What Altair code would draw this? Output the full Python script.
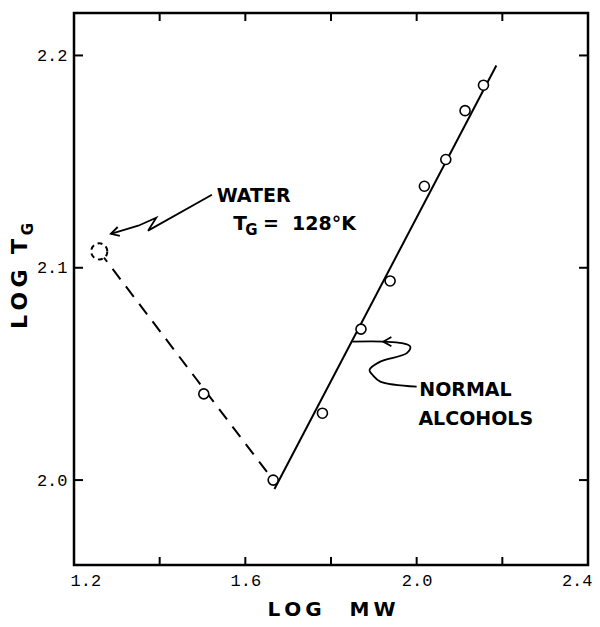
import altair as alt
import pandas as pd

# ---- data ----
alc_logmw = [1.503, 1.665, 1.780, 1.870, 1.938, 2.018, 2.068, 2.113, 2.156]
alc_logtg = [2.0406, 2.000, 2.0315, 2.0711, 2.0938, 2.1384, 2.1510, 2.1740, 2.1860]

water_logmw = [1.259]
water_logtg = [2.1077]

fit_logmw = [1.668, 2.186]
fit_logtg = [1.9958, 2.1953]

dash_logmw = [1.259, 1.665]
dash_logtg = [2.1077, 2.000]

x_ticks = [1.4, 1.6, 1.8, 2.0, 2.2]
x_labels = [1.2, 1.6, 2.0, 2.4]
y_ticks = [2.0, 2.1, 2.2]

# annotation arrows (data units)
water_arrow_x = [1.522, 1.373, 1.392, 1.350, 1.286]
water_arrow_y = [2.1344, 2.1175, 2.1236, 2.1198, 2.1160]
water_head_x = [1.307, 1.286, 1.302]
water_head_y = [2.1150, 2.1160, 2.1192]

alc_arrow_x = [2.000, 1.915, 1.899, 1.890, 1.915, 1.977, 1.985, 1.966, 1.923, 1.850]
alc_arrow_y = [2.0440, 2.0464, 2.0491, 2.0519, 2.0558, 2.0598, 2.0629, 2.0645, 2.0652, 2.0652]
alc_head_x = [1.941, 1.922, 1.941]
alc_head_y = [2.0674, 2.0652, 2.0630]

NB = "\u00a0"
TS = "\u2009"
labels_text = ["WATER", "T", "=" + NB * 2 + "128°K", "NORMAL", "ALCOHOLS"]
labels_x = [1.533, 1.5715, 1.641, 2.006, 2.004]
labels_y = [2.1340, 2.1208, 2.1208, 2.0425, 2.0288]
labels_size = [19, 20, 19, 19, 19]

sub_text = ["G"]
sub_x = [1.600]
sub_y = [2.1180]

x_title = "L" + TS + "O" + TS + "G" + NB * 4 + "M" + TS + "W"
y_title = "L" + TS + "O" + TS + "G" + NB * 2 + "T"

W, H = 514, 552
XD = [1.2, 2.4]
YD = [1.96, 2.22]

xs = alt.Scale(domain=XD, nice=False, zero=False)
ys = alt.Scale(domain=YD, nice=False, zero=False)

FONT = "DejaVu Sans"

pts = pd.DataFrame({"x": alc_logmw, "y": alc_logtg})
water = pd.DataFrame({"x": water_logmw, "y": water_logtg})
fit = pd.DataFrame({"x": fit_logmw, "y": fit_logtg})
dash = pd.DataFrame({"x": dash_logmw, "y": dash_logtg})

x_axis = alt.Axis(values=x_labels, format=".1f", tickSize=0, domain=False, grid=False,
                  labelFlush=True, labelFlushOffset=4, labelOverlap=False,
                  labelFont="Liberation Mono",
                  labelFontSize=17, labelColor="black", labelPadding=7,
                  title=x_title, titleFont=FONT, titleFontSize=20,
                  titleFontWeight="bold", titleColor="black", titlePadding=11)
y_axis = alt.Axis(values=y_ticks, format=".1f", tickSize=0, domain=False, grid=False,
                  labelOverlap=False, labelFont="Liberation Mono", labelFontSize=17,
                  labelColor="black", labelPadding=7, title=None)

dashed = alt.Chart(dash).mark_line(color="black", strokeWidth=2, strokeDash=[13, 9]).encode(
    x=alt.X("x:Q", scale=xs, axis=x_axis), y=alt.Y("y:Q", scale=ys, axis=y_axis))

solid = alt.Chart(fit).mark_line(color="black", strokeWidth=2).encode(
    x=alt.X("x:Q", scale=xs), y=alt.Y("y:Q", scale=ys))

points = alt.Chart(pts).mark_point(shape="circle", filled=True, fill="white", stroke="black",
                                   strokeWidth=1.6, size=100, opacity=1).encode(
    x=alt.X("x:Q", scale=xs), y=alt.Y("y:Q", scale=ys))

water_pt = alt.Chart(water).mark_point(shape="circle", filled=True, fill="white", stroke="black",
                                       strokeWidth=2, size=260, strokeDash=[5, 4], opacity=1).encode(
    x=alt.X("x:Q", scale=xs), y=alt.Y("y:Q", scale=ys))

def path_layer(xv, yv, interp):
    df = pd.DataFrame({"x": xv, "y": yv, "o": list(range(len(xv)))})
    return alt.Chart(df).mark_line(color="black", strokeWidth=1.8, interpolate=interp).encode(
        x=alt.X("x:Q", scale=xs), y=alt.Y("y:Q", scale=ys), order="o:Q")

arrows = [
    path_layer(water_arrow_x, water_arrow_y, "linear"),
    path_layer(water_head_x, water_head_y, "linear"),
    path_layer(alc_arrow_x, alc_arrow_y, "catmull-rom"),
    path_layer(alc_head_x, alc_head_y, "linear"),
]

lab = pd.DataFrame({"t": labels_text, "x": labels_x, "y": labels_y, "s": labels_size})
labels = alt.Chart(lab).mark_text(align="left", baseline="middle", font=FONT, fontWeight="bold",
                                  color="black").encode(
    x=alt.X("x:Q", scale=xs), y=alt.Y("y:Q", scale=ys), text="t:N",
    size=alt.Size("s:Q", scale=None, legend=None))

sub = alt.Chart(pd.DataFrame({"t": sub_text, "x": sub_x, "y": sub_y})).mark_text(
    align="left", baseline="middle", font=FONT, fontWeight="bold", fontSize=15, color="black").encode(
    x=alt.X("x:Q", scale=xs), y=alt.Y("y:Q", scale=ys), text="t:N")

# inward ticks on all four sides
xt = pd.DataFrame({"v": x_ticks})
yt = pd.DataFrame({"v": y_ticks})
tick_bottom = alt.Chart(xt).mark_rule(color="black", strokeWidth=2).encode(
    x=alt.X("v:Q", scale=xs), y=alt.value(H), y2=alt.value(H - 8))
tick_top = alt.Chart(xt).mark_rule(color="black", strokeWidth=2).encode(
    x=alt.X("v:Q", scale=xs), y=alt.value(0), y2=alt.value(8))
tick_left = alt.Chart(yt).mark_rule(color="black", strokeWidth=2).encode(
    y=alt.Y("v:Q", scale=ys), x=alt.value(0), x2=alt.value(9))
tick_right = alt.Chart(yt).mark_rule(color="black", strokeWidth=2).encode(
    y=alt.Y("v:Q", scale=ys), x=alt.value(W), x2=alt.value(W - 9))

# y title "LOG  T_G"
ytitle = alt.Chart(pd.DataFrame({"t": [y_title]})).mark_text(
    angle=270, align="center", baseline="middle", font=FONT, fontWeight="bold", fontSize=22,
    color="black").encode(x=alt.value(-54), y=alt.value(271), text="t:N")
ysub = alt.Chart(pd.DataFrame({"t": ["G"]})).mark_text(
    angle=270, align="center", baseline="middle", font=FONT, fontWeight="bold", fontSize=15,
    color="black").encode(x=alt.value(-46), y=alt.value(216), text="t:N")

chart = alt.layer(
    dashed, solid, *arrows, points, water_pt, labels, sub,
    tick_bottom, tick_top, tick_left, tick_right, ytitle, ysub
).properties(
    width=W, height=H,
    padding={"left": 66, "top": 5, "right": 4, "bottom": 58},
    autosize=alt.AutoSizeParams(type="none"),
    background="white",
).configure_view(stroke="black", strokeWidth=2.5)

chart.save("out.html", embed_options={"renderer": "svg", "actions": False})
